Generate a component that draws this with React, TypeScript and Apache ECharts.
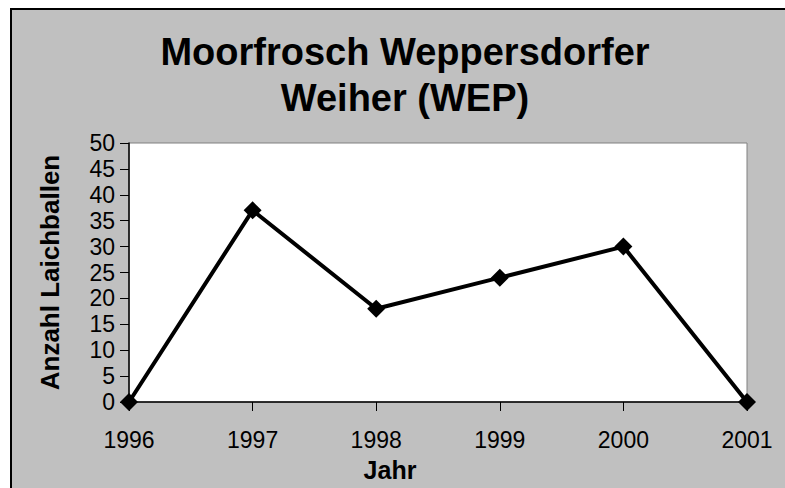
import React, { useEffect, useRef } from "react";
import * as echarts from "echarts";

const years = ["1996", "1997", "1998", "1999", "2000", "2001"];
const laichballen = [0, 37, 18, 24, 30, 0];
const titleLines = ["Moorfrosch Weppersdorfer", "Weiher (WEP)"];
const xName = "Jahr";
const yName = "Anzahl Laichballen";
const yMin = 0;
const yMax = 50;
const yStep = 5;

const FONT = "'Liberation Sans', Arial, sans-serif";

export default function App() {
  const ref = useRef<HTMLDivElement>(null);

  useEffect(() => {
    if (!ref.current) return;
    const chart = echarts.init(ref.current, null, { renderer: "svg" });
    chart.setOption({
      animation: false,
      backgroundColor: "#ffffff",
      textStyle: { fontFamily: FONT },
      graphic: [
        {
          type: "rect",
          z: -10,
          silent: true,
          shape: { x: 11, y: 9, width: 790, height: 500 },
          style: { fill: "#c0c0c0", stroke: "#000000", lineWidth: 2 },
        },
      ],
      title: {
        text: titleLines.join("\n"),
        left: 405,
        top: 29,
        textAlign: "center",
        padding: 0,
        textStyle: {
          fontFamily: FONT,
          fontSize: 38,
          fontWeight: "bold",
          color: "#000000",
          lineHeight: 46,
        },
      },
      grid: {
        left: 129,
        right: 38,
        top: 143,
        bottom: 86,
        show: true,
        backgroundColor: "#ffffff",
        borderColor: "#808080",
        borderWidth: 1,
        containLabel: false,
      },
      xAxis: {
        type: "category",
        data: years,
        boundaryGap: false,
        name: xName,
        nameLocation: "middle",
        nameGap: 55,
        nameTextStyle: {
          fontFamily: FONT,
          fontSize: 25,
          fontWeight: "bold",
          color: "#000000",
          padding: [0, 96, 0, 0],
        },
        axisLine: { show: true, lineStyle: { color: "#000000", width: 1.5 } },
        axisTick: { show: true, alignWithLabel: true, length: 9, lineStyle: { color: "#000000", width: 1 } },
        axisLabel: { fontFamily: FONT, fontSize: 23, color: "#000000", margin: 26 },
        splitLine: { show: false },
      },
      yAxis: {
        type: "value",
        min: yMin,
        max: yMax,
        interval: yStep,
        name: yName,
        nameLocation: "middle",
        nameGap: 66,
        nameTextStyle: {
          fontFamily: FONT,
          fontSize: 26,
          fontWeight: "bold",
          color: "#000000",
        },
        axisLine: { show: true, lineStyle: { color: "#000000", width: 1.5 } },
        axisTick: { show: true, length: 9, lineStyle: { color: "#000000", width: 1 } },
        axisLabel: { fontFamily: FONT, fontSize: 23, color: "#000000", margin: 14 },
        splitLine: { show: false },
      },
      series: [
        {
          type: "line",
          data: laichballen,
          clip: false,
          symbol: "diamond",
          symbolSize: 18,
          lineStyle: { color: "#000000", width: 4 },
          itemStyle: { color: "#000000" },
          z: 5,
        },
      ],
    });
    return () => chart.dispose();
  }, []);

  return (
    <div
      ref={ref}
      style={{ position: "absolute", left: 0, top: 0, width: 785, height: 488 }}
    />
  );
}
